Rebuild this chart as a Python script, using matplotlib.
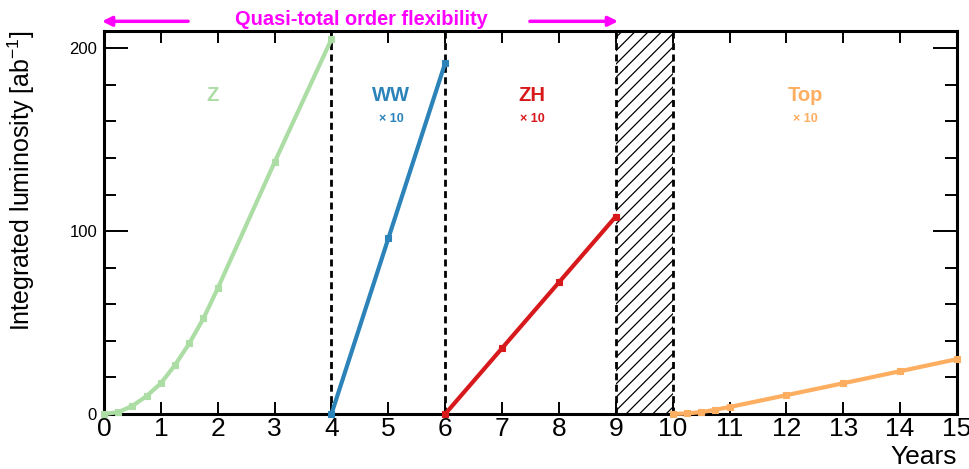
import matplotlib
matplotlib.use("Agg")
import matplotlib.pyplot as plt

plt.rcParams["font.family"] = ["Liberation Sans", "DejaVu Sans"]
plt.rcParams["mathtext.fontset"] = "custom"
plt.rcParams["mathtext.rm"] = "Liberation Sans"
plt.rcParams["mathtext.it"] = "Liberation Sans:italic"
plt.rcParams["mathtext.bf"] = "Liberation Sans:bold"

# laid out at 80 dpi so the "//" hatch comes out at a fine pitch;
# K converts sizes tuned for 100 dpi
DPI = 80
K = 100 / DPI
plt.rcParams["hatch.linewidth"] = 0.9 * K

# integrated luminosity per run (WW, ZH, Top scaled x10)
z_years = [0, 0.25, 0.5, 0.75, 1.0, 1.25, 1.5, 1.75, 2.0, 3.0, 4.0]
z_lumi = [0, 1.0, 4.4, 9.8, 16.8, 26.8, 38.6, 52.3, 68.7, 137.7, 205]

ww_years = [4, 5, 6]
ww_lumi = [0, 96, 192]

zh_years = [6, 7, 8, 9]
zh_lumi = [0, 36, 72, 108]

top_years = [10, 10.25, 10.5, 10.75, 11, 12, 13, 14, 15]
top_lumi = [0, 0.3, 1.0, 2.3, 3.8, 10.3, 16.8, 23.4, 30]

boundaries = [4, 6, 9, 10]
shutdown = (9, 10)

C_Z = "#abdda4"
C_WW = "#2b83ba"
C_ZH = "#d7191c"
C_TOP = "#fdae61"
MAGENTA = "#ff00ff"

fig = plt.figure(figsize=(969 / DPI, 469 / DPI), dpi=DPI)
ax = fig.add_axes([0.1073, 0.1173, 0.8803, 0.8166])

ax.axvspan(*shutdown, facecolor="none", edgecolor="black", hatch="//", linewidth=0, zorder=1)
for xb in boundaries:
    ax.axvline(xb, color="black", lw=2.0 * K, linestyle=(0, (2.5, 1.6)), zorder=2)

for xs, ys, c in [(z_years, z_lumi, C_Z), (ww_years, ww_lumi, C_WW),
                  (zh_years, zh_lumi, C_ZH), (top_years, top_lumi, C_TOP)]:
    ax.plot(xs, ys, color=c, lw=3 * K, marker="s", markersize=4.5 * K, zorder=3, clip_on=False)

ax.set_xlim(0, 15)
ax.set_ylim(0, 209.5)
ax.set_xticks(range(0, 16))
ax.set_yticks([0, 100, 200])
ax.set_yticks(range(0, 210, 20), minor=True)

ax.tick_params(axis="x", which="major", direction="in", length=8.5 * K, width=1.4 * K,
               top=True, labelsize=19 * K, pad=2 * K)
ax.tick_params(axis="y", which="major", direction="in", length=17 * K, width=1.4 * K,
               right=True, labelsize=12 * K, pad=5 * K)
ax.tick_params(axis="y", which="minor", direction="in", length=8.5 * K, width=1.4 * K, right=True)
for s in ax.spines.values():
    s.set_linewidth(2.2 * K)

ax.set_xlabel("Years", fontsize=19 * K, loc="right", labelpad=3 * K)
ax.set_ylabel("Integrated luminosity [ab$^{-1}$]", fontsize=18 * K, loc="top")
ax.yaxis.set_label_coords(-0.079, 1.0)

# run labels
ax.text(1.91, 174, "Z", color=C_Z, fontsize=14.5 * K, fontweight="bold", ha="center", va="center")
for xc, name, c in [(5.05, "WW", C_WW), (7.53, "ZH", C_ZH), (12.33, "Top", C_TOP)]:
    ax.text(xc, 174, name, color=c, fontsize=14.5 * K, fontweight="bold", ha="center", va="center")
    ax.text(xc, 161.5, "× 10", color=c, fontsize=9 * K, fontweight="bold", ha="center", va="center")

# order flexibility banner
ax.text(4.52, 215.8, "Quasi-total order flexibility", color=MAGENTA, fontsize=14.4 * K,
        fontweight="bold", ha="center", va="center", clip_on=False)
arrow = dict(arrowstyle="-|>,head_length=0.7,head_width=0.35", color=MAGENTA, lw=2.5 * K,
             shrinkA=0, shrinkB=0)
ax.annotate("", xy=(-0.035, 214.8), xytext=(1.48, 214.8), arrowprops=arrow, annotation_clip=False)
ax.annotate("", xy=(9.04, 214.8), xytext=(7.49, 214.8), arrowprops=arrow, annotation_clip=False)

fig.savefig("out.png", dpi=DPI)
